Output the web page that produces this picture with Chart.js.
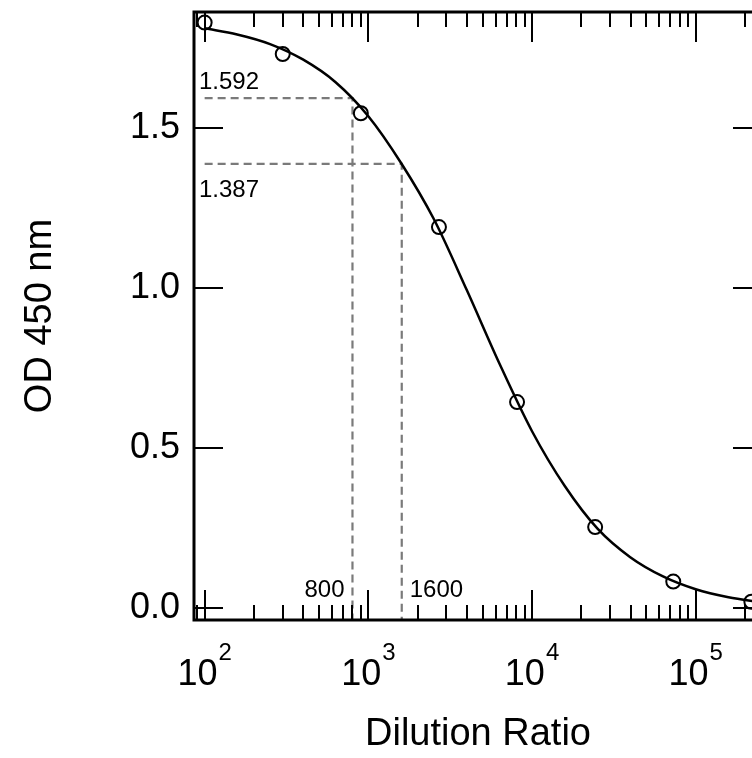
<!DOCTYPE html>
<html><head><meta charset="utf-8">
<script src="https://cdn.jsdelivr.net/npm/chart.js@4"></script>
<style>
html,body{margin:0;padding:0;overflow:hidden;background:#fff;width:752px;height:758px}
#wrap{width:780px;height:758px}
</style></head>
<body><div id="wrap"><canvas id="c" width="780" height="758"></canvas></div>
<script>
// measured points (3-fold dilution series)
const dilution = [100, 300, 900, 2700, 8100, 24300, 72900, 218700];
const od450 = [1.828, 1.730, 1.545, 1.190, 0.644, 0.254, 0.084, 0.021];
// fitted curve at 0.2-decade steps
const fitX = [100, 158, 251, 398, 631, 1000, 1585, 2512, 3981, 6310, 10000, 15849, 25119, 39811, 63096, 100000, 158489, 251189];
const fitY = [1.810, 1.791, 1.761, 1.713, 1.642, 1.536, 1.390, 1.215, 0.995, 0.765, 0.553, 0.382, 0.249, 0.160, 0.100, 0.060, 0.035, 0.019];
// reference (dashed) lines
const refDilution = [800, 1600];
const refOD = [1.592, 1.387];
const refLabelsX = ['800', '1600'];
const refLabelsY = ['1.592', '1.387'];
// axes
const xTickExponents = [2, 3, 4, 5];
const yTicks = [0, 0.5, 1.0, 1.5];
const xRange = [86.1, 254000];
const yRange = [-0.036, 1.861];

const FONT = "'Liberation Sans', Arial, Helvetica, sans-serif";
Chart.defaults.font.family = FONT;
Chart.defaults.color = '#000';

function refLine(i) {
  return {
    type: 'line',
    data: [{x: 100, y: refOD[i]}, {x: refDilution[i], y: refOD[i]}, {x: refDilution[i], y: yRange[0]}],
    borderColor: '#7a7a7a', borderWidth: 2.2, borderDash: [8, 5],
    pointRadius: 0, fill: false, tension: 0
  };
}

const framePlugin = {
  id: 'frameTicks',
  afterDraw(chart) {
    const {ctx, chartArea: a, scales: {x, y}} = chart;
    ctx.save();
    ctx.strokeStyle = '#000';
    ctx.lineCap = 'butt';
    ctx.lineWidth = 2;
    for (let e = 1; e <= 6; e++) {
      for (let k = 1; k <= 9; k++) {
        const v = k * Math.pow(10, e);
        if (v < xRange[0] || v > xRange[1]) continue;
        const px = Math.round(x.getPixelForValue(v));
        const len = k === 1 ? 30 : 15;
        ctx.beginPath();
        ctx.moveTo(px, a.bottom); ctx.lineTo(px, a.bottom - len);
        ctx.moveTo(px, a.top); ctx.lineTo(px, a.top + len);
        ctx.stroke();
      }
    }
    yTicks.forEach(v => {
      const py = Math.round(y.getPixelForValue(v));
      ctx.beginPath();
      ctx.moveTo(a.left, py); ctx.lineTo(a.left + 29, py);
      ctx.moveTo(a.right, py); ctx.lineTo(a.right - 29, py);
      ctx.stroke();
    });
    ctx.lineWidth = 3;
    ctx.strokeRect(a.left, a.top, a.right - a.left, a.bottom - a.top);
    ctx.fillStyle = '#000';
    ctx.textBaseline = 'alphabetic';
    ctx.textAlign = 'left';
    xTickExponents.forEach(e => {
      const px = x.getPixelForValue(Math.pow(10, e));
      ctx.font = '36px ' + FONT;
      const wb = ctx.measureText('10').width;
      ctx.font = '24px ' + FONT;
      const we = ctx.measureText(String(e)).width;
      const x0 = px - (wb + we + 1) / 2;
      ctx.font = '36px ' + FONT;
      ctx.fillText('10', x0, 685);
      ctx.font = '24px ' + FONT;
      ctx.fillText(String(e), x0 + wb + 1, 660);
    });
    ctx.font = '24px ' + FONT;
    ctx.textAlign = 'left';
    ctx.fillText(refLabelsY[0], a.left + 5, y.getPixelForValue(refOD[0]) - 9);
    ctx.fillText(refLabelsY[1], a.left + 5, y.getPixelForValue(refOD[1]) + 33);
    ctx.textAlign = 'right';
    ctx.fillText(refLabelsX[0], x.getPixelForValue(refDilution[0]) - 8, a.bottom - 23);
    ctx.textAlign = 'left';
    ctx.fillText(refLabelsX[1], x.getPixelForValue(refDilution[1]) + 8, a.bottom - 23);
    ctx.restore();
  }
};

new Chart(document.getElementById('c'), {
  type: 'line',
  data: {
    datasets: [
      {
        type: 'scatter',
        data: dilution.map((d, i) => ({x: d, y: od450[i]})),
        pointRadius: 7, pointBorderWidth: 2, pointBorderColor: '#000',
        pointBackgroundColor: 'rgba(0,0,0,0)', showLine: false
      },
      {
        type: 'line',
        data: fitX.map((d, i) => ({x: d, y: fitY[i]})),
        borderColor: '#000', borderWidth: 2.5, pointRadius: 0,
        cubicInterpolationMode: 'monotone', fill: false
      },
      refLine(0),
      refLine(1)
    ]
  },
  options: {
    responsive: false,
    animation: false,
    devicePixelRatio: 1,
    layout: {padding: {top: 12, right: 18, left: 0, bottom: 0}},
    plugins: {legend: {display: false}, tooltip: {enabled: false}},
    scales: {
      x: {
        type: 'logarithmic', min: xRange[0], max: xRange[1],
        grid: {display: false}, border: {display: false},
        ticks: {display: false},
        afterFit: s => { s.height = 138; s.paddingLeft = 0; s.paddingRight = 0; },
        title: {display: true, text: 'Dilution Ratio', font: {size: 38}, color: '#000', padding: {top: 0, bottom: 1}}
      },
      y: {
        type: 'linear', min: yRange[0], max: yRange[1],
        grid: {display: false, drawTicks: false}, border: {display: false},
        afterBuildTicks: s => { s.ticks = yTicks.map(v => ({value: v})); },
        ticks: {font: {size: 36}, color: '#000', padding: 14, callback: v => Number(v).toFixed(1)},
        afterFit: s => { s.width = 194; s.paddingTop = 0; s.paddingBottom = 0; },
        title: {display: true, text: 'OD 450 nm', font: {size: 38}, color: '#000', padding: {top: 18, bottom: 0}}
      }
    }
  },
  plugins: [framePlugin]
});
</script>
</body></html>
